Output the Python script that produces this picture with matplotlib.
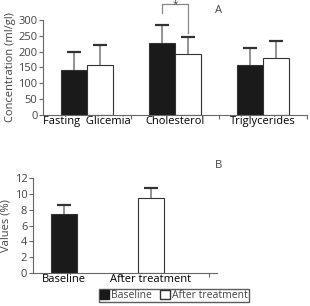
import matplotlib.pyplot as plt
import numpy as np
from matplotlib.patches import Patch

groups = ["Fasting  Glicemia", "Cholesterol", "Triglycerides"]
baseline = [143, 226, 158]
baseline_err = [57, 59, 53]
after = [158, 192, 180]
after_err = [62, 54, 54]

b_labels = ["Baseline", "After treatment"]
b_values = [7.4, 9.5]
b_err = [1.2, 1.3]

plt.rcParams["font.family"] = "Open Sans"
plt.rcParams["font.size"] = 8
txt = "#444444"
spine = "#666666"

fig = plt.figure(figsize=(3.10, 3.06), dpi=100)
ax1 = fig.add_axes([0.139, 0.624, 0.851, 0.311])
ax2 = fig.add_axes([0.106, 0.108, 0.594, 0.310])


def style(ax):
    for s in ["top", "right"]:
        ax.spines[s].set_visible(False)
    for s in ["left", "bottom"]:
        ax.spines[s].set_color(spine)
        ax.spines[s].set_linewidth(0.8)
    ax.tick_params(colors=spine, labelcolor=txt, length=3, width=0.8, pad=1)
    ax.tick_params(axis="x", which="minor", length=0, pad=1)


def bars(ax, pos, vals, errs, dark, w):
    fc = "#1a1a1a" if dark else "white"
    ax.bar(pos, vals, w, color=fc, edgecolor="#333333", linewidth=0.8, zorder=2)
    tops = np.array(vals) + np.array(errs)
    ax.vlines(pos, vals, tops, color="#8a8a8a", lw=1.3, zorder=1)
    ax.plot(pos, tops, ls="none", marker="_", markersize=10, mew=1.6,
            color="#333333", zorder=3)


x = np.arange(len(groups))
w = 0.3
bars(ax1, x - w / 2, baseline, baseline_err, True, w)
bars(ax1, x + w / 2, after, after_err, False, w)
ax1.set_xlim(-0.5, 2.5)
ax1.set_ylim(0, 300)
ax1.set_yticks(range(0, 301, 50))
ax1.set_xticks([0.5, 1.5, 2.5])
ax1.set_xticklabels([])
ax1.set_xticks(x, minor=True)
ax1.set_xticklabels(groups, minor=True)
ax1.set_ylabel("Concentration (ml/gl)", color=txt, labelpad=2)
style(ax1)

# significance bracket
y_top = 350
ax1.plot([1 - w / 2, 1 - w / 2, 1 + w / 2, 1 + w / 2],
         [322, y_top, y_top, after[1] + after_err[1] + 12],
         color="#888888", lw=0.9, clip_on=False)
ax1.text(1, y_top - 3, "*", ha="center", va="center", fontsize=7, color=txt)
ax1.text(0.705, 0.967, "A", transform=fig.transFigure, ha="center", va="center",
         fontsize=8, color=txt)

xb = np.arange(len(b_labels))
bars(ax2, xb[:1], b_values[:1], b_err[:1], True, w)
bars(ax2, xb[1:], b_values[1:], b_err[1:], False, w)
ax2.set_xlim(-0.36, 1.76)
ax2.set_ylim(0, 12)
ax2.set_yticks(range(0, 13, 2))
ax2.set_xticks([0.655, 1.67])
ax2.set_xticklabels([])
ax2.set_xticks(xb, minor=True)
ax2.set_xticklabels(b_labels, minor=True)
ax2.set_ylabel("Values (%)", color=txt, labelpad=2)
style(ax2)
ax2.text(0.705, 0.458, "B", transform=fig.transFigure, ha="center", va="center",
         fontsize=8, color=txt)

handles = [Patch(facecolor="#1a1a1a", edgecolor="#1a1a1a", label="Baseline"),
           Patch(facecolor="white", edgecolor="#333333", label="After treatment")]
fig.legend(handles=handles, loc="lower center", bbox_to_anchor=(0.56, -0.005),
           ncol=2, frameon=True, fancybox=False, edgecolor="#333333",
           handlelength=0.9, handleheight=0.9, handletextpad=0.2, columnspacing=0.8,
           borderpad=0.1, fontsize=7.5, labelcolor=txt)

fig.savefig("out.png", dpi=100)
